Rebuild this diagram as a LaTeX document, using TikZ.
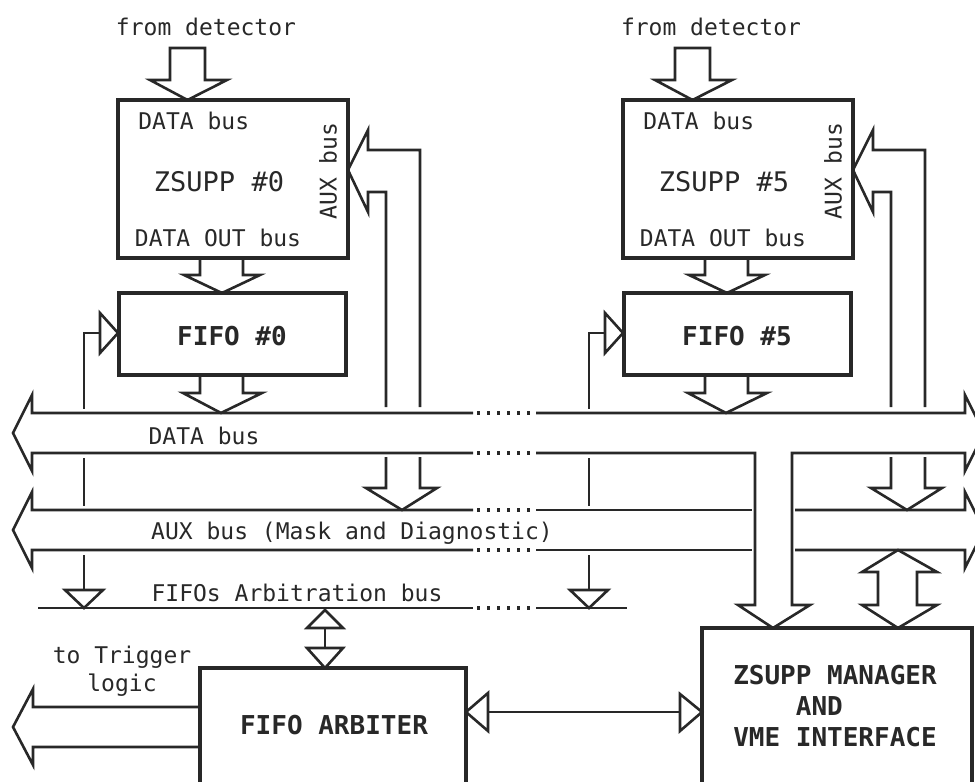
\documentclass[tikz,border=0pt]{standalone}
\usepackage{fontspec}
\setmainfont{DejaVu Sans Mono}
\definecolor{ink}{RGB}{40,40,40}
\tikzset{
 ln/.style={draw=ink, line width=1.3pt, line join=miter},
 boxst/.style={draw=ink, line width=1.9pt, rectangle, inner sep=0pt},
 dotln/.style={draw=ink, line width=1.6pt, dash pattern=on 1.6pt off 3.4pt},
 lbl/.style={text=ink, font=\fontsize{11.5}{14}\selectfont, inner sep=0pt},
 ttl/.style={text=ink, font=\fontsize{13.5}{15.5}\selectfont, inner sep=0pt},
 bttl/.style={text=ink, font=\fontsize{13}{15.5}\selectfont\bfseries, inner sep=0pt},
}
\begin{document}
\begin{tikzpicture}[x=0.5pt,y=-0.5pt]
\useasboundingbox (0,0) rectangle (975,782);
\clip (0,0) rectangle (975,782);

% ---------- the two ZSUPP / FIFO columns ----------
\foreach \o/\n in {0/0,505/5}{
  \node[boxst, minimum width=115pt, minimum height=79pt] (z\n) at (233+\o,179) {};
  \node[lbl, anchor=west] (zd\n) at (138+\o,121) {DATA bus};
  \node[ttl] (zt\n) at (219+\o,182) {ZSUPP \#\n};
  \node[lbl] (zo\n) at (218+\o,238) {DATA OUT bus};
  \node[lbl, rotate=90] (za\n) at (328+\o,171) {AUX bus};
  \node[lbl] (fd\n) at (206+\o,27) {from detector};
  \node[boxst, minimum width=113.5pt, minimum height=41pt] (f\n) at (232.5+\o,334) {};
  \node[bttl] (ft\n) at (232+\o,336) {FIFO \#\n};
  % input from detector
  \draw[ln] (170+\o,48) -- (205+\o,48) -- (205+\o,80) -- (227+\o,80) -- (187.5+\o,100)
            -- (150+\o,80) -- (170+\o,80) -- cycle;
  % ZSUPP -> FIFO
  \draw[ln] (200+\o,258) -- (200+\o,275) -- (184+\o,275) -- (222+\o,293) -- (260+\o,275)
            -- (243+\o,275) -- (243+\o,258);
  % FIFO -> DATA bus
  \draw[ln] (200+\o,375) -- (200+\o,393) -- (183+\o,393) -- (221+\o,413) -- (262+\o,393)
            -- (243+\o,393) -- (243+\o,375);
  % AUX bus feedback into ZSUPP
  \draw[ln] (386+\o,407) -- (386+\o,192) -- (368+\o,192) -- (368+\o,212) -- (348+\o,170)
            -- (368+\o,130) -- (368+\o,150) -- (420+\o,150) -- (420+\o,407);
  \draw[ln] (386+\o,457) -- (386+\o,488) -- (366+\o,488) -- (402+\o,510) -- (437+\o,488)
            -- (420+\o,488) -- (420+\o,457);
  % FIFO arbitration line
  \draw[ln] (100+\o,313) -- (118+\o,333) -- (100+\o,353) -- cycle;
  \draw[ln] (100+\o,333) -- (84+\o,333) -- (84+\o,409);
  \draw[ln] (84+\o,458) -- (84+\o,506);
  \draw[ln] (84+\o,555) -- (84+\o,590);
  \draw[ln] (65+\o,590) -- (103+\o,590) -- (84+\o,608) -- cycle;
}

% ---------- DATA bus ----------
\draw[ln] (473,413) -- (32,413) -- (32,395) -- (13,433) -- (32,471) -- (32,453) -- (473,453);
\draw[dotln] (477,413) -- (534,413);
\draw[dotln] (477,453) -- (534,453);
\draw[ln] (536,413) -- (965,413) -- (965,395) -- (984,433) -- (965,471) -- (965,453)
          -- (792,453) -- (792,605) -- (810,605) -- (773,628) -- (738,605) -- (755,605)
          -- (755,453) -- (536,453);
\node[lbl] (dbl) at (204,436) {DATA bus};

% ---------- AUX bus ----------
\draw[ln] (473,510) -- (32,510) -- (32,492) -- (13,530) -- (32,568) -- (32,550) -- (473,550);
\draw[dotln] (477,510) -- (534,510);
\draw[dotln] (477,550) -- (534,550);
\draw[ln] (536,510) -- (752,510);
\draw[ln] (536,550) -- (752,550);
\draw[ln] (795,510) -- (965,510) -- (965,492) -- (984,530) -- (965,568) -- (965,550) -- (795,550);
\node[lbl] (abl) at (352,533) {AUX bus (Mask and Diagnostic)};

% ---------- FIFOs arbitration bus ----------
\draw[ln] (38,608) -- (473,608);
\draw[dotln] (477,608) -- (534,608);
\draw[ln] (536,608) -- (627,608);
\node[lbl] (arl) at (297,593) {FIFOs Arbitration bus};

% ---------- manager ----------
\node[boxst, minimum width=135pt, minimum height=86pt] (mgr) at (837,714) {};
\node[bttl, align=left] (mgrt) at (835,706) {ZSUPP MANAGER\\\phantom{ZSUP}AND\\VME INTERFACE};
% AUX bus <-> manager
\draw[ln] (878,572) -- (862,572) -- (898,550) -- (937,572) -- (917,572) -- (917,605)
          -- (937,605) -- (898,628) -- (862,605) -- (878,605) -- cycle;

% ---------- arbiter ----------
\node[boxst, minimum width=133pt, minimum height=66pt] (arb) at (333,734) {};
\node[bttl] (arbt) at (334,725) {FIFO ARBITER};
\draw[ln] (307,628) -- (325,610) -- (343,628) -- cycle;
\draw[ln] (325,628) -- (325,648);
\draw[ln] (307,648) -- (343,648) -- (325,668) -- cycle;
% arbiter <-> manager
\draw[ln] (488,693) -- (466,712) -- (488,731) -- cycle;
\draw[ln] (488,712) -- (680,712);
\draw[ln] (680,694) -- (702,712) -- (680,731) -- cycle;
% to trigger logic
\draw[ln] (200,707) -- (33,707) -- (33,689) -- (13,727) -- (33,765) -- (33,747) -- (200,747);
\node[lbl, align=center] (trl) at (122,671) {to Trigger\\logic};
\end{tikzpicture}
\end{document}
